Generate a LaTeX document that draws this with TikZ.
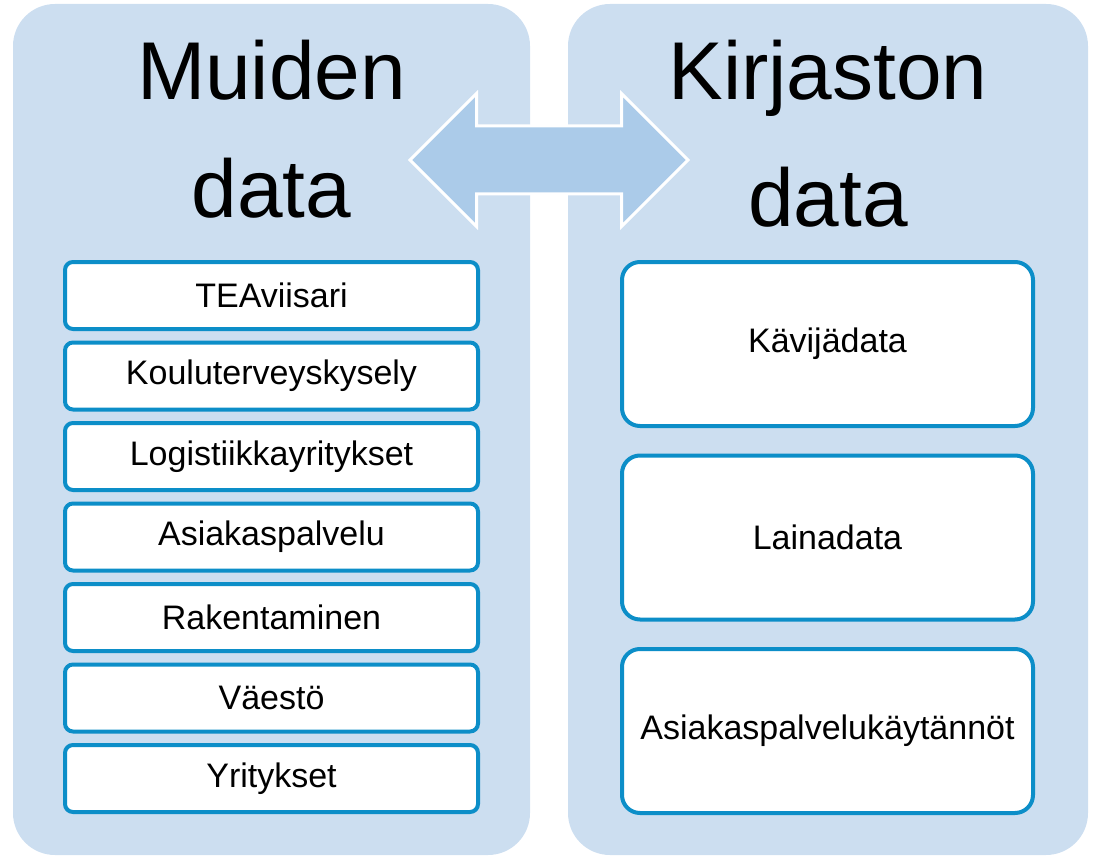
\documentclass[tikz,border=0pt]{standalone}
\usepackage{fontspec}
\setmainfont{Liberation Sans}
\usepackage{tikz}
\usetikzlibrary{shapes,arrows}
\definecolor{panelblue}{RGB}{204,222,240}
\definecolor{arrowblue}{RGB}{171,203,233}
\definecolor{edgeblue}{RGB}{12,142,200}
\tikzstyle{panel} = [fill=panelblue, rounded corners=42pt, minimum width=517pt, minimum height=851pt, inner sep=0pt]
\tikzstyle{title} = [inner sep=0pt, anchor=base, node distance=118pt, font=\fontsize{82}{98}\selectfont]
\tikzstyle{item} = [draw=edgeblue, line width=4pt, fill=white, rounded corners=8pt, minimum width=413pt, minimum height=67pt, inner sep=0pt, node distance=80.5pt, font=\fontsize{34}{40}\selectfont]
\tikzstyle{bigitem} = [item, rounded corners=18pt, minimum width=411pt, minimum height=164pt, node distance=193.5pt]
\tikzstyle{link} = [double arrow, draw=white, line width=3pt, fill=arrowblue, minimum height=278pt, minimum width=130pt, double arrow head extend=32.5pt, inner xsep=0pt, inner ysep=32.5pt]

\begin{document}
\begin{tikzpicture}[x=1pt,y=-1pt]

\useasboundingbox (0,0) rectangle (1093,856);

\node[panel] (muiden) at (271.5,429.5) {};
\node[panel, minimum width=520pt] (kirjasto) at (828,429.5) {};

\node[link] (vaihto) at (549,160) {};

\node[title] (t1a) at (271.5,100) {Muiden};
\node[title] (t2a) [below of = t1a] {data};
\node[title] (t1b) at (828,100) {Kirjaston};
\node[title] (t2b) [below of = t1b] {data};

\node[item] (1a) at (271.5,295.5) {TEAviisari};
\node[item] (2a) [below of = 1a] {Kouluterveyskysely};
\node[item] (3a) [below of = 2a] {Logistiikkayritykset};
\node[item] (4a) [below of = 3a] {Asiakaspalvelu};
\node[item] (5a) [below of = 4a] {Rakentaminen};
\node[item] (6a) [below of = 5a] {Väestö};
\node[item] (7a) [below of = 6a] {Yritykset};

\node[bigitem] (1b) at (827.5,344) {Kävijädata};
\node[bigitem] (2b) [below of = 1b] {Lainadata};
\node[bigitem] (3b) [below of = 2b] {Asiakaspalvelukäytännöt};

\end{tikzpicture}
\end{document}
